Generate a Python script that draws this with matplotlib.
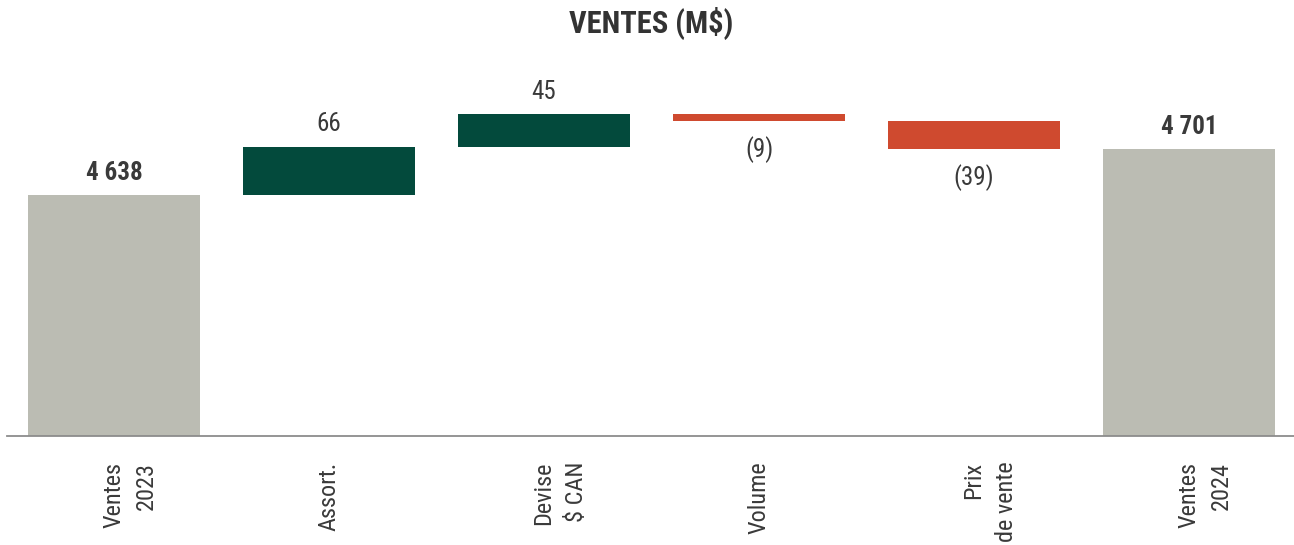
"""Waterfall chart: sales bridge 2023 -> 2024 (M$)."""

import matplotlib

matplotlib.use("Agg")
import matplotlib.pyplot as plt
import numpy as np

# --- data -------------------------------------------------------------------
first_lines = ["Ventes", "Assort.", "Devise", "Volume", "Prix", "Ventes"]
second_lines = ["2023", "", "$ CAN", "", "de vente", "2024"]
start_total = 4638
deltas = [66, 45, -9, -39]
end_total = 4701
value_labels = ["4 638", "66", "45", "(9)", "(39)", "4 701"]

GREY = "#bbbcb3"
GREEN = "#034a3c"
RED = "#cf4a2f"
TEXT = "#3a3a3a"

plt.rcParams["font.family"] = ["Roboto Condensed", "Liberation Sans", "DejaVu Sans"]

fig = plt.figure(figsize=(12.94, 5.45), dpi=100)
ax = fig.add_axes([7 / 1294, 0.2, 1287 / 1294, 376 / 545])

x = np.arange(len(first_lines))
width = 0.8

# totals
ax.bar(x[0], start_total, width=width, color=GREY)
ax.bar(x[-1], end_total, width=width, color=GREY)

# floating deltas
running = start_total + np.concatenate([[0], np.cumsum(deltas)[:-1]])
for i, (base, d) in enumerate(zip(running, deltas), start=1):
    ax.bar(x[i], d, bottom=base, width=width, color=GREEN if d > 0 else RED)

# value labels
tops = [start_total] + list(running + np.array(deltas).clip(min=0)) + [end_total]
bottoms = [None] + list(running + np.array(deltas).clip(max=0)) + [None]
for i, lab in enumerate(value_labels):
    bold = i in (0, len(value_labels) - 1)
    if 0 < i < len(value_labels) - 1 and deltas[i - 1] < 0:
        ax.annotate(lab, (x[i], bottoms[i]), xytext=(0, -11), textcoords="offset points",
                    ha="center", va="top", fontsize=18, color=TEXT)
    else:
        ax.annotate(lab, (x[i], tops[i]), xytext=(0, 7.5), textcoords="offset points",
                    ha="center", va="bottom", fontsize=18, color=TEXT,
                    fontweight="bold" if bold else "normal")

# category labels (rotated, first line centred on the bar)
for i in x:
    ax.annotate(first_lines[i], (x[i], 0), xycoords=("data", "axes fraction"),
                xytext=(0, -18.5), textcoords="offset points", rotation=90,
                ha="center", va="top", fontsize=17.5, color=TEXT)
    if second_lines[i]:
        ax.annotate(second_lines[i], (x[i], 0), xycoords=("data", "axes fraction"),
                    xytext=(23, -18.5), textcoords="offset points", rotation=90,
                    ha="center", va="top", fontsize=17.5, color=TEXT)

ax.set_xlim(-0.498, 5.488)
ax.set_ylim(4308, 4823)
ax.set_xticks([])
ax.set_yticks([])
for side in ("top", "right", "left"):
    ax.spines[side].set_visible(False)
ax.spines["bottom"].set_color("#8c8c8c")
ax.spines["bottom"].set_linewidth(1.3)

fig.text(0.503, 1 - 23 / 545, "VENTES (M$)", ha="center", va="center",
         fontsize=22, fontweight="bold", color="#333333")

fig.savefig("out.png", dpi=100)
plt.close(fig)
